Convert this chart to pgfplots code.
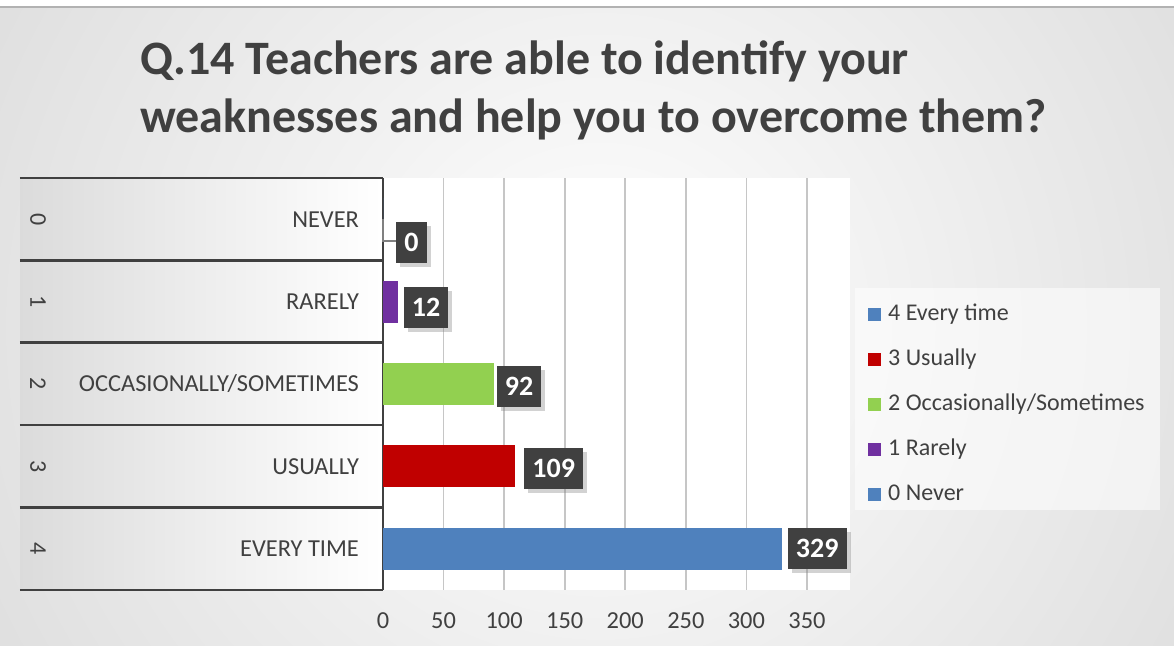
\documentclass[border=0pt]{standalone}
\usepackage{fontspec}
\setmainfont{Carlito}
\usepackage{pgfplots}
\pgfplotsset{compat=1.18}
\usetikzlibrary{shadows}

\definecolor{txt}{HTML}{404040}
\definecolor{lblbox}{HTML}{404040}
\definecolor{cblue}{HTML}{4F81BD}
\definecolor{cred}{HTML}{C00000}
\definecolor{cgreen}{HTML}{92D050}
\definecolor{cpurple}{HTML}{7030A0}

\begin{document}
\begin{tikzpicture}
% 1 px of the reference = 0.5pt
\useasboundingbox (0,0) rectangle (587pt,323pt);
\begin{scope}
  \clip (0,0) rectangle (587pt,323pt);
  \fill[gray!45] (0,0) rectangle (587pt,323pt);
  \shade[inner color=white, outer color=gray!45] (300pt,160pt) circle (620pt);
  \fill[white] (0,319.5pt) rectangle (587pt,323pt);
  \draw[gray!60, line width=0.6pt] (0,319.5pt) -- (587pt,319.5pt);
  % category label area and plot area
  \shade[left color=gray!28, right color=white] (10pt,28pt) rectangle (191.5pt,234pt);
  \fill[white] (191.5pt,28pt) rectangle (425pt,234pt);
  % legend box
  \fill[white, opacity=0.55] (427.5pt,68pt) rectangle (580pt,179pt);
\end{scope}

% title
\node[anchor=base west, inner sep=0pt, text=txt, font=\bfseries\fontsize{24}{29}\selectfont] at (70pt,285.5pt)
  {Q.14 Teachers are able to identify your};
\node[anchor=base west, inner sep=0pt, text=txt, font=\bfseries\fontsize{24}{29}\selectfont] at (70pt,256.5pt)
  {weaknesses and help you to overcome them?};

\begin{axis}[
    at={(191.5pt,28pt)}, anchor=south west,
    scale only axis,
    width=212pt, height=206pt,
    xbar, bar width=21pt,
    xmin=0, xmax=350,
    ymin=-0.5, ymax=4.5,
    xtick={0,50,...,350},
    ytick={0,1,2,3,4},
    yticklabels={EVERY TIME,USUALLY,OCCASIONALLY/SOMETIMES,RARELY,NEVER},
    major tick length=0pt,
    extra y ticks={-0.5,0.5,1.5,2.5,3.5,4.5},
    extra y tick labels={,,,,,},
    extra y tick style={major tick length=181.5pt, tick align=outside,
      tick style={draw=txt, line width=1.3pt}},
    xmajorgrids,
    grid style={draw=gray!45, line width=0.8pt},
    separate axis lines,
    axis x line*=bottom, axis y line*=left,
    x axis line style={draw=none},
    y axis line style={draw=txt, line width=1.3pt, -},
    /pgf/number format/assume math mode=true,
    ticklabel style={font=\fontsize{12.2}{12}\selectfont, text=txt},
    xticklabel style={yshift=-8pt},
    yticklabel style={xshift=-8.5pt},
    clip=false,
    legend style={at={(1.142,0.7087)}, anchor=north west, draw=none, fill=none,
      inner sep=0pt, row sep=6.5pt, font=\fontsize{12}{12}\selectfont, text=txt,
      nodes={inner sep=2pt, text height=9pt, text depth=3pt}},
    legend cell align=left,
    legend image code/.code={\fill[#1, draw=none] (0pt,-3.4pt) rectangle (6.8pt,3.4pt);},
    nodes near coords={\pgfmathprintnumber{\pgfplotspointmeta}},
    every node near coord/.style={anchor=west, fill=lblbox, text=white,
      font=\bfseries\fontsize{14}{14}\selectfont, minimum height=20.5pt,
      inner xsep=4pt, inner ysep=0pt,
      drop shadow={opacity=0.35, shadow xshift=2pt, shadow yshift=-2pt}},
]
\addplot[fill=cblue, draw=none, bar shift=0pt,
  every node near coord/.append style={xshift=3pt}] coordinates {(329,0)};
\addlegendentry{\hspace{1.5pt}4 Every time}
\addplot[fill=cred, draw=none, bar shift=0pt,
  every node near coord/.append style={xshift=4.5pt, yshift=-1pt}] coordinates {(109,1)};
\addlegendentry{\hspace{1.5pt}3 Usually}
\addplot[fill=cgreen, draw=none, bar shift=0pt,
  every node near coord/.append style={xshift=1pt, yshift=-1.2pt}] coordinates {(92,2)};
\addlegendentry{\hspace{1.5pt}2 Occasionally/Sometimes}
\addplot[fill=cpurple, draw=none, bar shift=0pt,
  every node near coord/.append style={xshift=3pt, yshift=-3pt}] coordinates {(12,3)};
\addlegendentry{\hspace{1.5pt}1 Rarely}
\addplot[fill=cblue, draw=none, bar shift=0pt,
  every node near coord/.append style={xshift=6.5pt, yshift=-11.5pt}] coordinates {(0,4)};
\addlegendentry{\hspace{1.5pt}0 Never}

% leader line of the 0 label
\draw[gray, line width=0.8pt] (axis cs:0,4) -- ([yshift=-11pt]axis cs:0,4)
  -- ([xshift=6.5pt,yshift=-11pt]axis cs:0,4);

% outer level of the category axis
\node[rotate=-90, text=txt, font=\fontsize{12}{12}\selectfont] at ([xshift=-172.5pt]axis cs:0,4) {0};
\node[rotate=-90, text=txt, font=\fontsize{12}{12}\selectfont] at ([xshift=-172.5pt]axis cs:0,3) {1};
\node[rotate=-90, text=txt, font=\fontsize{12}{12}\selectfont] at ([xshift=-172.5pt]axis cs:0,2) {2};
\node[rotate=-90, text=txt, font=\fontsize{12}{12}\selectfont] at ([xshift=-172.5pt]axis cs:0,1) {3};
\node[rotate=-90, text=txt, font=\fontsize{12}{12}\selectfont] at ([xshift=-172.5pt]axis cs:0,0) {4};
\end{axis}
\end{tikzpicture}
\end{document}
